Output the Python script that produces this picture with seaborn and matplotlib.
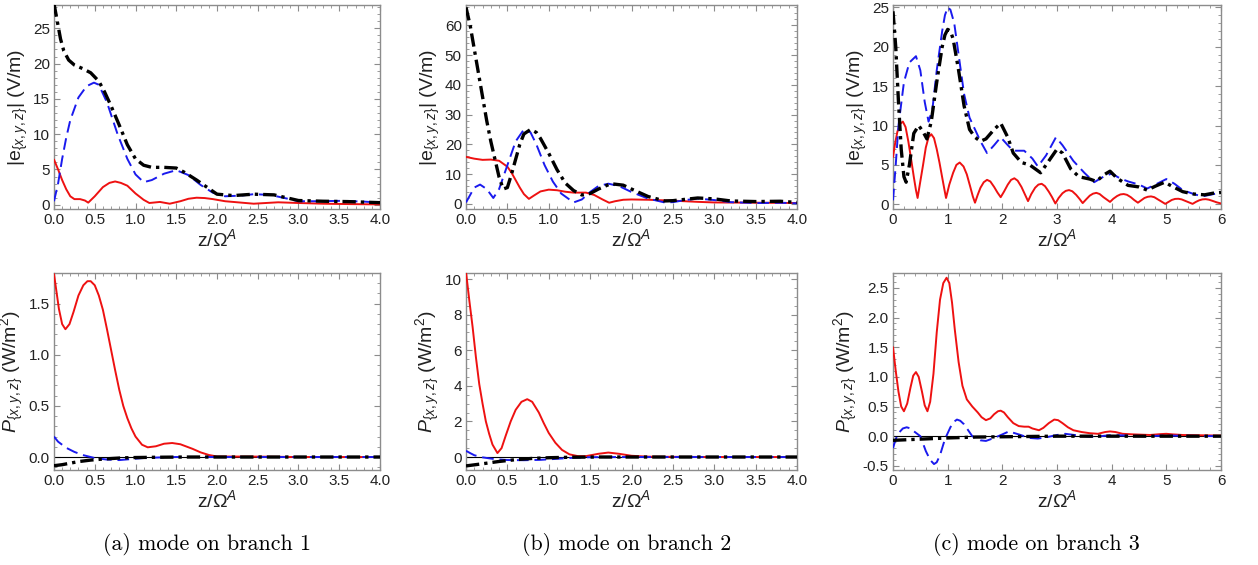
import matplotlib
matplotlib.use("Agg")
import matplotlib.pyplot as plt
import seaborn as sns
from matplotlib.ticker import MultipleLocator, FormatStrFormatter

# ---- data: (z/Omega^A, value) ----
# (a) branch 1, |e| in V/m
a_e_red = [(0, 6.4), (0.05, 5.0), (0.1, 3.5), (0.15, 2.2), (0.2, 1.2), (0.25, 0.8), (0.32, 0.8),
           (0.38, 0.6), (0.42, 0.3), (0.5, 1.2), (0.6, 2.5), (0.68, 3.1), (0.75, 3.3), (0.82, 3.1),
           (0.9, 2.7), (1.0, 1.6), (1.1, 0.7), (1.17, 0.25), (1.3, 0.4), (1.42, 0.15), (1.55, 0.5),
           (1.65, 0.85), (1.75, 1.0), (1.85, 0.95), (1.95, 0.8), (2.1, 0.5), (2.3, 0.3), (2.45, 0.15),
           (2.6, 0.25), (2.75, 0.35), (3.0, 0.25), (3.3, 0.15), (3.6, 0.1), (4.0, 0.05)]
a_e_blue = [(0, 0.5), (0.05, 3.0), (0.1, 6.5), (0.15, 9.5), (0.2, 12.0), (0.3, 15.2), (0.4, 16.8),
            (0.49, 17.3), (0.55, 17.0), (0.65, 14.5), (0.78, 10.0), (0.9, 6.5), (1.0, 4.3), (1.1, 3.2),
            (1.2, 3.5), (1.35, 4.4), (1.5, 4.9), (1.65, 4.2), (1.8, 2.8), (1.95, 1.7), (2.1, 1.2),
            (2.3, 1.3), (2.45, 1.5), (2.65, 1.4), (2.85, 0.9), (3.0, 0.5), (3.2, 0.5), (3.5, 0.55),
            (3.8, 0.45), (4.0, 0.3)]
a_e_black = [(0, 28.5), (0.04, 26.0), (0.08, 23.5), (0.12, 21.8), (0.18, 20.5), (0.25, 19.8),
             (0.35, 19.3), (0.45, 18.7), (0.55, 17.5), (0.62, 16.0), (0.7, 14.0), (0.8, 11.3),
             (0.9, 8.5), (1.0, 6.5), (1.1, 5.6), (1.2, 5.3), (1.35, 5.3), (1.5, 5.2), (1.6, 4.6),
             (1.75, 3.5), (1.9, 2.3), (2.0, 1.5), (2.2, 1.3), (2.45, 1.5), (2.7, 1.4), (2.85, 1.0),
             (3.0, 0.6), (3.3, 0.5), (3.6, 0.45), (4.0, 0.3)]
# (a) branch 1, P in W/m^2
a_p_red = [(0, 1.79), (0.03, 1.62), (0.06, 1.45), (0.1, 1.3), (0.14, 1.25), (0.19, 1.3), (0.24, 1.42),
           (0.3, 1.58), (0.36, 1.68), (0.41, 1.72), (0.45, 1.72), (0.5, 1.68), (0.55, 1.58),
           (0.6, 1.44), (0.65, 1.25), (0.7, 1.05), (0.75, 0.85), (0.8, 0.66), (0.85, 0.5), (0.9, 0.38),
           (0.95, 0.28), (1.0, 0.2), (1.08, 0.12), (1.15, 0.095), (1.25, 0.105), (1.35, 0.13),
           (1.45, 0.137), (1.55, 0.125), (1.7, 0.08), (1.8, 0.045), (1.9, 0.02), (2.0, 0.005),
           (2.5, 0.004), (3.0, 0.0), (4.0, 0.0)]
a_p_blue = [(0, 0.2), (0.05, 0.15), (0.15, 0.09), (0.25, 0.05), (0.35, 0.02), (0.5, -0.01),
            (0.65, -0.025), (0.8, -0.03), (0.95, -0.02), (1.1, -0.01), (1.3, -0.004), (1.5, 0.0),
            (4.0, 0.0)]
a_p_black = [(0, -0.085), (0.1, -0.075), (0.2, -0.06), (0.3, -0.045), (0.45, -0.03), (0.6, -0.02),
             (0.7, -0.015), (0.85, -0.008), (1.0, -0.005), (1.3, -0.002), (1.6, 0.0), (4.0, 0.0)]

# (b) branch 2, |e| in V/m
b_e_red = [(0, 15.8), (0.1, 15.2), (0.2, 14.8), (0.3, 14.9), (0.4, 14.5), (0.5, 12.5), (0.55, 10.5),
           (0.6, 8.0), (0.65, 5.5), (0.7, 3.3), (0.76, 1.7), (0.82, 2.8), (0.9, 4.2), (1.0, 4.8),
           (1.1, 4.6), (1.2, 4.1), (1.3, 3.8), (1.45, 3.8), (1.55, 3.0), (1.65, 1.5), (1.73, 0.4),
           (1.8, 0.9), (1.9, 1.4), (2.0, 1.5), (2.2, 1.4), (2.5, 1.1), (2.8, 0.7), (3.0, 0.5),
           (3.3, 0.45), (3.6, 0.4), (4.0, 0.3)]
b_e_blue = [(0, 0.5), (0.05, 3.0), (0.1, 5.5), (0.17, 6.5), (0.25, 5.0), (0.33, 2.0), (0.4, 5.0),
            (0.5, 13.0), (0.6, 21.0), (0.7, 25.0), (0.78, 24.0), (0.85, 20.0), (0.95, 13.0),
            (1.05, 7.5), (1.15, 3.5), (1.3, 0.5), (1.4, 1.5), (1.5, 4.0), (1.6, 6.0), (1.72, 6.8),
            (1.85, 6.0), (2.0, 4.0), (2.2, 1.8), (2.4, 0.5), (2.5, 0.6), (2.65, 1.3), (2.8, 1.8),
            (3.0, 1.3), (3.2, 0.6), (3.5, 0.3), (3.8, 0.4), (4.0, 0.2)]
b_e_black = [(0, 66.0), (0.05, 60.0), (0.1, 52.0), (0.15, 44.0), (0.2, 36.0), (0.25, 28.0),
             (0.3, 21.0), (0.35, 15.0), (0.4, 9.0), (0.45, 5.0), (0.5, 5.5), (0.55, 10.0),
             (0.6, 15.0), (0.65, 20.0), (0.7, 23.5), (0.78, 25.0), (0.85, 24.0), (0.9, 22.0),
             (1.0, 17.0), (1.1, 11.5), (1.2, 7.0), (1.3, 4.5), (1.4, 3.0), (1.5, 3.5), (1.6, 5.0),
             (1.75, 6.8), (1.9, 6.3), (2.0, 5.0), (2.2, 2.5), (2.4, 1.0), (2.5, 1.1), (2.6, 1.4),
             (2.8, 2.0), (3.0, 1.7), (3.2, 1.0), (3.5, 0.8), (3.8, 0.9), (4.0, 0.5)]
# (b) branch 2, P in W/m^2
b_p_red = [(0, 10.4), (0.04, 8.8), (0.08, 7.3), (0.12, 5.6), (0.16, 4.1), (0.2, 3.0), (0.24, 2.0),
           (0.28, 1.3), (0.32, 0.7), (0.38, 0.22), (0.43, 0.5), (0.48, 1.2), (0.54, 2.0), (0.6, 2.65),
           (0.67, 3.1), (0.74, 3.25), (0.8, 3.1), (0.88, 2.5), (0.94, 1.9), (1.0, 1.35), (1.08, 0.8),
           (1.16, 0.4), (1.25, 0.15), (1.35, 0.05), (1.45, 0.05), (1.6, 0.18), (1.72, 0.25),
           (1.85, 0.18), (2.0, 0.07), (2.2, 0.02), (2.5, 0.01), (3.0, 0.0), (4.0, 0.0)]
b_p_blue = [(0, 0.35), (0.05, 0.22), (0.1, 0.1), (0.2, -0.02), (0.35, -0.12), (0.5, -0.17),
            (0.7, -0.18), (0.9, -0.16), (1.1, -0.1), (1.3, -0.04), (1.5, -0.01), (2.0, 0.0), (4.0, 0.0)]
b_p_black = [(0, -0.5), (0.2, -0.38), (0.4, -0.25), (0.6, -0.15), (0.8, -0.08), (1.0, -0.04),
             (1.3, -0.01), (1.6, 0.0), (4.0, 0.0)]

# (c) branch 3, |e| in V/m
c_e_red = [(0, 6.0), (0.04, 7.8), (0.08, 9.2), (0.13, 10.2), (0.18, 10.5), (0.23, 9.8), (0.28, 8.0),
           (0.33, 5.8), (0.38, 3.5), (0.42, 1.8), (0.45, 0.8), (0.49, 2.5), (0.55, 5.0), (0.6, 7.2),
           (0.65, 8.5), (0.7, 8.9), (0.75, 8.4), (0.8, 7.0), (0.85, 5.3), (0.9, 3.4), (0.94, 1.9),
           (0.97, 0.8), (1.03, 2.5), (1.1, 4.0), (1.16, 5.0), (1.22, 5.3), (1.29, 4.8), (1.35, 3.8),
           (1.41, 2.3), (1.46, 1.0), (1.5, 0.2), (1.55, 1.2), (1.6, 2.1), (1.66, 2.8), (1.72, 3.1),
           (1.78, 2.9), (1.85, 2.2), (1.91, 1.5), (1.97, 0.9), (2.03, 1.6), (2.1, 2.5), (2.16, 3.1),
           (2.22, 3.3), (2.28, 3.0), (2.35, 2.2), (2.41, 1.3), (2.47, 0.4), (2.53, 1.3), (2.6, 2.1),
           (2.66, 2.5), (2.72, 2.6), (2.78, 2.3), (2.85, 1.6), (2.91, 0.9), (2.97, 0.1), (3.03, 0.8),
           (3.1, 1.4), (3.16, 1.7), (3.22, 1.8), (3.28, 1.65), (3.35, 1.2), (3.41, 0.7), (3.47, 0.15),
           (3.53, 0.6), (3.6, 1.1), (3.66, 1.35), (3.72, 1.45), (3.78, 1.3), (3.85, 0.9), (3.91, 0.6),
           (3.97, 0.3), (4.03, 0.7), (4.1, 1.05), (4.16, 1.25), (4.22, 1.3), (4.28, 1.2), (4.35, 0.9),
           (4.41, 0.55), (4.48, 0.2), (4.54, 0.5), (4.6, 0.8), (4.66, 0.95), (4.72, 1.0), (4.78, 0.9),
           (4.85, 0.6), (4.91, 0.35), (4.98, 0.05), (5.04, 0.3), (5.1, 0.55), (5.16, 0.68),
           (5.22, 0.7), (5.28, 0.62), (5.35, 0.42), (5.41, 0.25), (5.48, 0.05), (5.54, 0.3),
           (5.6, 0.5), (5.66, 0.62), (5.72, 0.65), (5.78, 0.58), (5.85, 0.42), (5.92, 0.25),
           (6.0, 0.1)]
c_e_blue = [(0, 0.5), (0.05, 5.0), (0.1, 10.0), (0.2, 15.5), (0.3, 18.0), (0.42, 18.8), (0.5, 17.0),
            (0.58, 13.0), (0.65, 10.5), (0.72, 12.0), (0.8, 17.0), (0.9, 22.0), (0.95, 24.0),
            (1.0, 25.0), (1.05, 24.7), (1.12, 23.0), (1.2, 19.0), (1.3, 14.0), (1.4, 11.0), (1.5, 9.5),
            (1.6, 8.0), (1.72, 6.5), (1.85, 7.5), (1.97, 8.5), (2.1, 7.5), (2.2, 6.8), (2.4, 6.8),
            (2.55, 5.8), (2.65, 4.8), (2.8, 6.2), (2.98, 8.5), (3.1, 7.5), (3.3, 5.5), (3.5, 4.0),
            (3.68, 2.8), (3.85, 3.5), (4.0, 3.9), (4.15, 3.3), (4.3, 2.9), (4.5, 2.5), (4.65, 2.0),
            (4.8, 2.5), (5.0, 3.2), (5.15, 2.6), (5.3, 1.8), (5.5, 1.3), (5.65, 1.0), (5.8, 1.2),
            (6.0, 1.5)]
c_e_black = [(0, 24.5), (0.05, 20.0), (0.1, 13.0), (0.15, 7.0), (0.2, 3.5), (0.24, 2.8), (0.3, 5.0),
             (0.38, 9.0), (0.47, 10.0), (0.55, 9.2), (0.62, 8.3), (0.7, 10.5), (0.8, 15.5),
             (0.9, 20.0), (0.95, 21.5), (1.0, 22.2), (1.05, 22.0), (1.1, 21.0), (1.2, 17.0),
             (1.3, 12.5), (1.4, 9.5), (1.5, 8.5), (1.6, 8.0), (1.7, 8.3), (1.85, 9.5), (1.97, 10.3),
             (2.1, 8.5), (2.2, 6.5), (2.35, 5.3), (2.5, 5.0), (2.7, 4.0), (2.85, 5.5), (3.0, 7.0),
             (3.1, 6.5), (3.25, 4.5), (3.4, 3.5), (3.6, 3.2), (3.72, 2.9), (3.85, 3.7), (3.97, 4.2),
             (4.1, 3.3), (4.3, 2.4), (4.5, 2.2), (4.65, 1.8), (4.8, 2.3), (4.97, 2.8), (5.1, 2.3),
             (5.3, 1.6), (5.5, 1.3), (5.7, 1.2), (5.85, 1.4), (6.0, 1.5)]
# (c) branch 3, P in W/m^2
c_p_red = [(0, 1.5), (0.05, 1.1), (0.1, 0.75), (0.15, 0.5), (0.2, 0.42), (0.26, 0.55), (0.32, 0.82),
           (0.37, 1.02), (0.42, 1.08), (0.47, 1.0), (0.53, 0.75), (0.58, 0.52), (0.63, 0.42),
           (0.68, 0.58), (0.74, 1.05), (0.8, 1.75), (0.86, 2.3), (0.92, 2.58), (0.98, 2.67),
           (1.03, 2.58), (1.08, 2.25), (1.13, 1.8), (1.2, 1.25), (1.27, 0.85), (1.35, 0.62),
           (1.45, 0.5), (1.55, 0.4), (1.62, 0.32), (1.7, 0.27), (1.78, 0.3), (1.85, 0.37),
           (1.92, 0.42), (1.97, 0.43), (2.03, 0.4), (2.1, 0.32), (2.2, 0.22), (2.3, 0.17),
           (2.4, 0.16), (2.48, 0.16), (2.55, 0.13), (2.67, 0.1), (2.75, 0.14), (2.85, 0.22),
           (2.95, 0.28), (3.02, 0.27), (3.1, 0.22), (3.2, 0.15), (3.3, 0.1), (3.45, 0.07),
           (3.6, 0.05), (3.75, 0.04), (3.88, 0.07), (3.97, 0.08), (4.07, 0.07), (4.2, 0.04),
           (4.4, 0.03), (4.7, 0.02), (4.9, 0.035), (5.0, 0.04), (5.12, 0.03), (5.3, 0.02),
           (6.0, 0.01)]
c_p_blue = [(0, -0.2), (0.05, -0.05), (0.1, 0.05), (0.18, 0.13), (0.25, 0.15), (0.32, 0.13),
            (0.4, 0.07), (0.5, 0.0), (0.6, -0.25), (0.68, -0.4), (0.75, -0.47), (0.8, -0.44),
            (0.86, -0.32), (0.95, -0.05), (1.05, 0.15), (1.11, 0.24), (1.17, 0.28), (1.23, 0.26),
            (1.3, 0.2), (1.45, 0.0), (1.6, -0.07), (1.7, -0.08), (1.85, -0.03), (2.0, 0.03),
            (2.12, 0.08), (2.3, 0.03), (2.5, -0.03), (2.65, -0.04), (2.8, -0.02), (3.0, 0.02),
            (3.15, 0.04), (3.4, 0.01), (3.6, -0.01), (3.8, 0.0), (4.0, 0.02), (4.3, 0.01), (4.6, 0.0),
            (5.0, 0.01), (6.0, 0.0)]
c_p_black = [(0, -0.07), (0.5, -0.05), (1.0, -0.03), (1.5, -0.015), (2.0, -0.01), (3.0, 0.0), (6.0, 0.0)]

captions = ["(a) mode on branch 1", "(b) mode on branch 2", "(c) mode on branch 3"]

# ---- style ----
sns.set_style("ticks")
plt.rcParams["font.family"] = ["Liberation Sans", "DejaVu Sans"]
plt.rcParams["mathtext.fontset"] = "custom"
plt.rcParams["mathtext.rm"] = "Liberation Sans"
plt.rcParams["mathtext.it"] = "Liberation Sans:italic"
frame_col = "#8c8c8c"
text_col = "#222222"

fig = plt.figure(figsize=(12.58, 5.65), dpi=100)
W, H = 1258, 565

def px_axes(x0, x1, y0, y1):
    return fig.add_axes([x0 / W, 1 - y1 / H, (x1 - x0) / W, (y1 - y0) / H])

cols = [(54, 380), (466, 797), (893, 1221)]
rows = [(5, 209), (273, 470)]

panels = [
    # (col, row, curves, xmax, xmajor, xminor, ylim, ymajor, yminor, yfmt)
    (0, 0, (a_e_red, a_e_blue, a_e_black), 4, 0.5, 0.1, (-0.6, 28.3), 5, 1, "%d"),
    (1, 0, (b_e_red, b_e_blue, b_e_black), 4, 0.5, 0.1, (-1.7, 66.8), 10, 2, "%d"),
    (2, 0, (c_e_red, c_e_blue, c_e_black), 6, 1, 0.2, (-0.6, 25.3), 5, 1, "%d"),
    (0, 1, (a_p_red, a_p_blue, a_p_black), 4, 0.5, 0.1, (-0.127, 1.80), 0.5, 0.1, "%.1f"),
    (1, 1, (b_p_red, b_p_blue, b_p_black), 4, 0.5, 0.1, (-0.73, 10.34), 2, 0.5, "%d"),
    (2, 1, (c_p_red, c_p_blue, c_p_black), 6, 1, 0.2, (-0.57, 2.75), 0.5, 0.1, "%.1f"),
]

ylab_e = r"$|\mathregular{e}_{\{x,y,z\}}|$ (V/m)"
ylab_p = r"$P_{\{x,y,z\}}$ (W/m$^2$)"
xlab = r"z/$\Omega^{A}$"

for col, row, curves, xmax, xmaj, xmin_, ylim, ymaj, ymin_, yfmt in panels:
    ax = px_axes(cols[col][0], cols[col][1], rows[row][0], rows[row][1])
    red, blue, black = curves
    if row == 1:
        ax.axhline(0, color="black", lw=0.8, zorder=1)
    sns.lineplot(x=[p[0] for p in red], y=[p[1] for p in red], ax=ax, color="#ee1111",
                 lw=1.4, estimator=None, sort=False, zorder=3)
    sns.lineplot(x=[p[0] for p in blue], y=[p[1] for p in blue], ax=ax, color="#1a1aee",
                 lw=1.4, linestyle=(0, (6, 3)), estimator=None, sort=False, zorder=4)
    sns.lineplot(x=[p[0] for p in black], y=[p[1] for p in black], ax=ax, color="black",
                 lw=2.4, linestyle=(0, (4, 1.5, 1, 1.5)), estimator=None, sort=False, zorder=5)
    ax.set_xlim(0, xmax)
    ax.set_ylim(*ylim)
    ax.xaxis.set_major_locator(MultipleLocator(xmaj))
    ax.xaxis.set_minor_locator(MultipleLocator(xmin_))
    ax.yaxis.set_major_locator(MultipleLocator(ymaj))
    ax.yaxis.set_minor_locator(MultipleLocator(ymin_))
    ax.xaxis.set_major_formatter(FormatStrFormatter("%.1f" if xmax == 4 else "%d"))
    ax.yaxis.set_major_formatter(FormatStrFormatter(yfmt))
    ax.tick_params(which="both", direction="in", top=True, right=True, color=frame_col,
                   labelcolor=text_col, labelsize=11, pad=3)
    ax.tick_params(which="major", length=4, width=0.8)
    ax.tick_params(which="minor", length=2, width=0.6)
    for s in ax.spines.values():
        s.set_color(frame_col)
        s.set_linewidth(1.0)
    ax.set_xlabel(xlab, fontsize=14, color=text_col, labelpad=1)
    ax.set_ylabel(ylab_e if row == 0 else ylab_p, fontsize=14, color=text_col, labelpad=2)

# captions in a Computer Modern style serif
for i, cap in enumerate(captions):
    cx = [207, 627, 1036][i]
    fig.text(cx / W, 1 - 545 / H, cap, ha="center", va="center", fontsize=15.8,
             family=["cmr10", "DejaVu Serif"], color="black")

fig.savefig("out.png", dpi=100)
